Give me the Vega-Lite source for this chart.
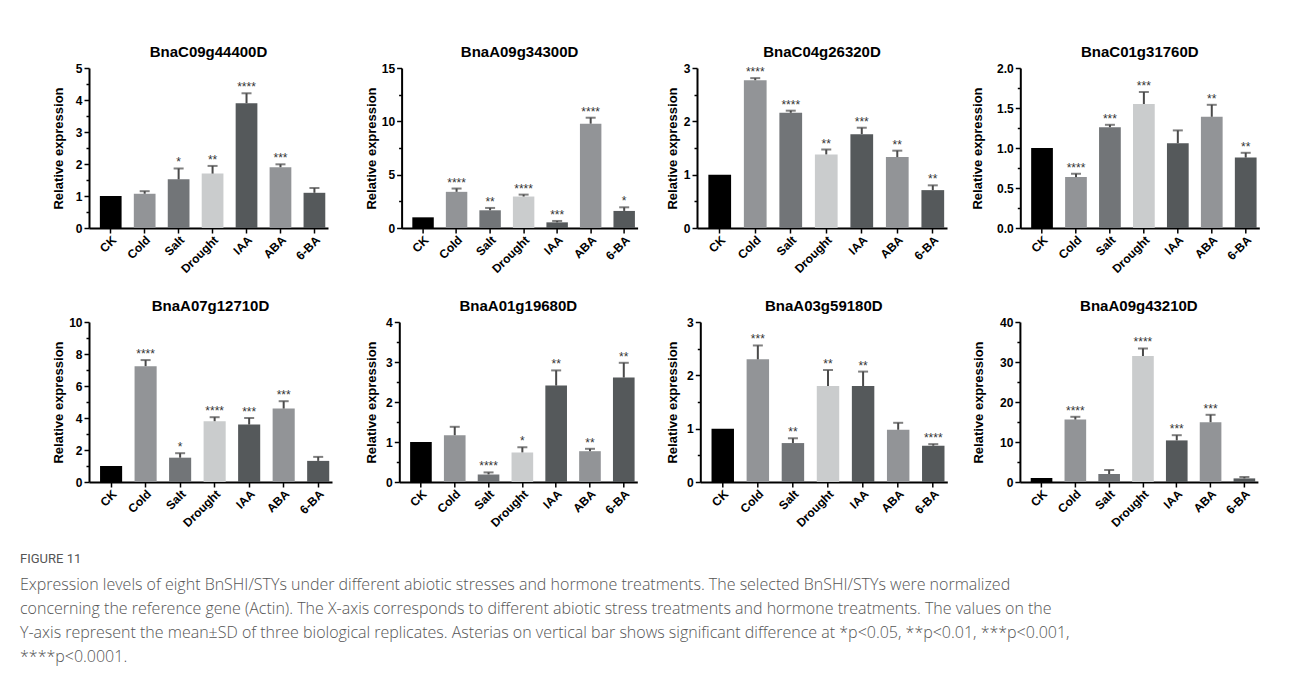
{
"$schema": "https://vega.github.io/schema/vega-lite/v6.json",
"padding": {"left": 20, "top": 45, "right": 5, "bottom": 5},
"background": "white",
"datasets": {
"expr": [
{"gene":"BnaC09g44400D","treatment":"CK","mean":1.0},
{"gene":"BnaC09g44400D","treatment":"Cold","mean":1.07,"upper":1.15},
{"gene":"BnaC09g44400D","treatment":"Salt","mean":1.52,"upper":1.86,"sig":"*"},
{"gene":"BnaC09g44400D","treatment":"Drought","mean":1.70,"upper":1.94,"sig":"**"},
{"gene":"BnaC09g44400D","treatment":"IAA","mean":3.90,"upper":4.21,"sig":"****"},
{"gene":"BnaC09g44400D","treatment":"ABA","mean":1.90,"upper":1.99,"sig":"***"},
{"gene":"BnaC09g44400D","treatment":"6-BA","mean":1.10,"upper":1.25},
{"gene":"BnaA09g34300D","treatment":"CK","mean":1.0},
{"gene":"BnaA09g34300D","treatment":"Cold","mean":3.39,"upper":3.70,"sig":"****"},
{"gene":"BnaA09g34300D","treatment":"Salt","mean":1.66,"upper":1.88,"sig":"**"},
{"gene":"BnaA09g34300D","treatment":"Drought","mean":2.95,"upper":3.13,"sig":"****"},
{"gene":"BnaA09g34300D","treatment":"IAA","mean":0.53,"upper":0.66,"sig":"***"},
{"gene":"BnaA09g34300D","treatment":"ABA","mean":9.78,"upper":10.34,"sig":"****"},
{"gene":"BnaA09g34300D","treatment":"6-BA","mean":1.60,"upper":1.94,"sig":"*"},
{"gene":"BnaC04g26320D","treatment":"CK","mean":1.0},
{"gene":"BnaC04g26320D","treatment":"Cold","mean":2.77,"upper":2.81,"sig":"****"},
{"gene":"BnaC04g26320D","treatment":"Salt","mean":2.16,"upper":2.20,"sig":"****"},
{"gene":"BnaC04g26320D","treatment":"Drought","mean":1.38,"upper":1.47,"sig":"**"},
{"gene":"BnaC04g26320D","treatment":"IAA","mean":1.76,"upper":1.88,"sig":"***"},
{"gene":"BnaC04g26320D","treatment":"ABA","mean":1.33,"upper":1.45,"sig":"**"},
{"gene":"BnaC04g26320D","treatment":"6-BA","mean":0.71,"upper":0.80,"sig":"**"},
{"gene":"BnaC01g31760D","treatment":"CK","mean":1.0},
{"gene":"BnaC01g31760D","treatment":"Cold","mean":0.636,"upper":0.678,"sig":"****"},
{"gene":"BnaC01g31760D","treatment":"Salt","mean":1.26,"upper":1.29,"sig":"***"},
{"gene":"BnaC01g31760D","treatment":"Drought","mean":1.55,"upper":1.70,"sig":"***"},
{"gene":"BnaC01g31760D","treatment":"IAA","mean":1.06,"upper":1.22},
{"gene":"BnaC01g31760D","treatment":"ABA","mean":1.39,"upper":1.54,"sig":"**"},
{"gene":"BnaC01g31760D","treatment":"6-BA","mean":0.88,"upper":0.94,"sig":"**"},
{"gene":"BnaA07g12710D","treatment":"CK","mean":1.0},
{"gene":"BnaA07g12710D","treatment":"Cold","mean":7.24,"upper":7.62,"sig":"****"},
{"gene":"BnaA07g12710D","treatment":"Salt","mean":1.52,"upper":1.80,"sig":"*"},
{"gene":"BnaA07g12710D","treatment":"Drought","mean":3.80,"upper":4.05,"sig":"****"},
{"gene":"BnaA07g12710D","treatment":"IAA","mean":3.59,"upper":4.00,"sig":"***"},
{"gene":"BnaA07g12710D","treatment":"ABA","mean":4.59,"upper":5.05,"sig":"***"},
{"gene":"BnaA07g12710D","treatment":"6-BA","mean":1.32,"upper":1.57},
{"gene":"BnaA01g19680D","treatment":"CK","mean":1.0},
{"gene":"BnaA01g19680D","treatment":"Cold","mean":1.17,"upper":1.38},
{"gene":"BnaA01g19680D","treatment":"Salt","mean":0.19,"upper":0.24,"sig":"****"},
{"gene":"BnaA01g19680D","treatment":"Drought","mean":0.74,"upper":0.87,"sig":"*"},
{"gene":"BnaA01g19680D","treatment":"IAA","mean":2.41,"upper":2.79,"sig":"**"},
{"gene":"BnaA01g19680D","treatment":"ABA","mean":0.77,"upper":0.83,"sig":"**"},
{"gene":"BnaA01g19680D","treatment":"6-BA","mean":2.61,"upper":2.98,"sig":"**"},
{"gene":"BnaA03g59180D","treatment":"CK","mean":1.0},
{"gene":"BnaA03g59180D","treatment":"Cold","mean":2.30,"upper":2.56,"sig":"***"},
{"gene":"BnaA03g59180D","treatment":"Salt","mean":0.73,"upper":0.82,"sig":"**"},
{"gene":"BnaA03g59180D","treatment":"Drought","mean":1.80,"upper":2.10,"sig":"**"},
{"gene":"BnaA03g59180D","treatment":"IAA","mean":1.80,"upper":2.07,"sig":"**"},
{"gene":"BnaA03g59180D","treatment":"ABA","mean":0.98,"upper":1.11},
{"gene":"BnaA03g59180D","treatment":"6-BA","mean":0.68,"upper":0.71,"sig":"****"},
{"gene":"BnaA09g43210D","treatment":"CK","mean":1.0},
{"gene":"BnaA09g43210D","treatment":"Cold","mean":15.6,"upper":16.3,"sig":"****"},
{"gene":"BnaA09g43210D","treatment":"Salt","mean":2.0,"upper":3.0},
{"gene":"BnaA09g43210D","treatment":"Drought","mean":31.5,"upper":33.4,"sig":"****"},
{"gene":"BnaA09g43210D","treatment":"IAA","mean":10.4,"upper":11.7,"sig":"***"},
{"gene":"BnaA09g43210D","treatment":"ABA","mean":14.95,"upper":16.8,"sig":"***"},
{"gene":"BnaA09g43210D","treatment":"6-BA","mean":0.9,"upper":1.25}
]
},
"title": {
"text": "FIGURE 11",
"subtitle": [
"Expression levels of eight BnSHI/STYs under different abiotic stresses and hormone treatments. The selected BnSHI/STYs were normalized",
"concerning the reference gene (Actin). The X-axis corresponds to different abiotic stress treatments and hormone treatments. The values on the",
"Y-axis represent the mean±SD of three biological replicates. Asterias on vertical bar shows significant difference at *p<0.05, **p<0.01, ***p<0.001,",
"****p<0.0001."
],
"orient": "bottom",
"anchor": "start",
"dx": -32,
"offset": 24,
"font": "Roboto",
"fontSize": 13,
"fontWeight": "normal",
"color": "#555555",
"subtitleFont": "Open Sans",
"subtitleFontSize": 16,
"subtitleFontWeight": 300,
"subtitleColor": "#555555",
"subtitleLineHeight": 24,
"subtitlePadding": 11
},
"vconcat": [
{"hconcat": [
 {"hconcat": [
  {"width": 239, "height": 160, "title": "BnaC09g44400D", "data": {"name": "expr"},
   "transform": [{"filter": "datum.gene === 'BnaC09g44400D'"}],
   "encoding": {"x": {"field": "treatment", "type": "nominal", "sort": ["CK","Cold","Salt","Drought","IAA","ABA","6-BA"], "scale": {"paddingInner": 0.36, "paddingOuter": 0.2, "align": 0.8}, "title": null}},
   "layer": [
    {"mark": "bar", "encoding": {"y": {"field": "mean", "type": "quantitative", "title": "Relative expression", "scale": {"domain": [0, 5], "nice": false},
      "axis": {"values": [0,0.5,1,1.5,2,2.5,3,3.5,4,4.5,5], "format": ".0f", "tickCount": 50, "labelOverlap": false, "labelExpr": "datum.value % 1 === 0 ? datum.label : ''", "tickSize": {"condition": {"test": "datum.value % 1 !== 0", "value": 3}, "value": 5}, "minExtent": 21, "titlePadding": 3}},
      "color": {"field": "treatment", "type": "nominal", "scale": {"domain": ["CK","Cold","Salt","Drought","IAA","ABA","6-BA"], "range": ["#000000","#929497","#727578","#cacccd","#55595b","#929497","#55595b"]}, "legend": null}}},
    {"transform": [{"filter": "datum.upper != null"}], "mark": {"type": "rule", "color": "#4a4a4a", "strokeWidth": 2}, "encoding": {"y": {"field": "mean", "type": "quantitative", "title": "Relative expression"}, "y2": {"field": "upper"}}},
    {"transform": [{"filter": "datum.upper != null"}], "mark": {"type": "tick", "color": "#4a4a4a", "thickness": 2, "size": 10}, "encoding": {"y": {"field": "upper", "type": "quantitative", "title": "Relative expression"}}},
    {"transform": [{"filter": "datum.sig != null"}], "mark": {"type": "text", "baseline": "alphabetic", "dy": -2, "fontSize": 12, "color": "#333333"}, "encoding": {"y": {"field": "upper", "type": "quantitative", "title": "Relative expression"}, "text": {"field": "sig"}}}
   ]},
  {"width": 236, "height": 160, "title": "BnaA09g34300D", "data": {"name": "expr"},
   "transform": [{"filter": "datum.gene === 'BnaA09g34300D'"}],
   "encoding": {"x": {"field": "treatment", "type": "nominal", "sort": ["CK","Cold","Salt","Drought","IAA","ABA","6-BA"], "scale": {"paddingInner": 0.36, "paddingOuter": 0.2, "align": 0.8}, "title": null}},
   "layer": [
    {"mark": "bar", "encoding": {"y": {"field": "mean", "type": "quantitative", "title": "Relative expression", "scale": {"domain": [0, 15], "nice": false},
      "axis": {"values": [0,2.5,5,7.5,10,12.5,15], "format": ".0f", "tickCount": 50, "labelOverlap": false, "labelExpr": "datum.value % 5 === 0 ? datum.label : ''", "tickSize": {"condition": {"test": "datum.value % 5 !== 0", "value": 3}, "value": 5}, "titlePadding": 3}},
      "color": {"field": "treatment", "type": "nominal", "scale": {"domain": ["CK","Cold","Salt","Drought","IAA","ABA","6-BA"], "range": ["#000000","#929497","#727578","#cacccd","#55595b","#929497","#55595b"]}, "legend": null}}},
    {"transform": [{"filter": "datum.upper != null"}], "mark": {"type": "rule", "color": "#4a4a4a", "strokeWidth": 2}, "encoding": {"y": {"field": "mean", "type": "quantitative", "title": "Relative expression"}, "y2": {"field": "upper"}}},
    {"transform": [{"filter": "datum.upper != null"}], "mark": {"type": "tick", "color": "#4a4a4a", "thickness": 2, "size": 10}, "encoding": {"y": {"field": "upper", "type": "quantitative", "title": "Relative expression"}}},
    {"transform": [{"filter": "datum.sig != null"}], "mark": {"type": "text", "baseline": "alphabetic", "dy": -2, "fontSize": 12, "color": "#333333"}, "encoding": {"y": {"field": "upper", "type": "quantitative", "title": "Relative expression"}, "text": {"field": "sig"}}}
   ]}
 ], "spacing": 36.6},
 {"hconcat": [
  {"width": 250, "height": 160, "title": "BnaC04g26320D", "data": {"name": "expr"},
   "transform": [{"filter": "datum.gene === 'BnaC04g26320D'"}],
   "encoding": {"x": {"field": "treatment", "type": "nominal", "sort": ["CK","Cold","Salt","Drought","IAA","ABA","6-BA"], "scale": {"paddingInner": 0.36, "paddingOuter": 0.2, "align": 0.8}, "title": null}},
   "layer": [
    {"mark": "bar", "encoding": {"y": {"field": "mean", "type": "quantitative", "title": "Relative expression", "scale": {"domain": [0, 3], "nice": false},
      "axis": {"values": [0,0.5,1,1.5,2,2.5,3], "format": ".0f", "tickCount": 50, "labelOverlap": false, "labelExpr": "datum.value % 1 === 0 ? datum.label : ''", "tickSize": {"condition": {"test": "datum.value % 1 !== 0", "value": 3}, "value": 5}, "minExtent": 14, "titlePadding": 4}},
      "color": {"field": "treatment", "type": "nominal", "scale": {"domain": ["CK","Cold","Salt","Drought","IAA","ABA","6-BA"], "range": ["#000000","#929497","#727578","#cacccd","#55595b","#929497","#55595b"]}, "legend": null}}},
    {"transform": [{"filter": "datum.upper != null"}], "mark": {"type": "rule", "color": "#4a4a4a", "strokeWidth": 2}, "encoding": {"y": {"field": "mean", "type": "quantitative", "title": "Relative expression"}, "y2": {"field": "upper"}}},
    {"transform": [{"filter": "datum.upper != null"}], "mark": {"type": "tick", "color": "#4a4a4a", "thickness": 2, "size": 10}, "encoding": {"y": {"field": "upper", "type": "quantitative", "title": "Relative expression"}}},
    {"transform": [{"filter": "datum.sig != null"}], "mark": {"type": "text", "baseline": "alphabetic", "dy": -2, "fontSize": 12, "color": "#333333"}, "encoding": {"y": {"field": "upper", "type": "quantitative", "title": "Relative expression"}, "text": {"field": "sig"}}}
   ]},
  {"width": 239, "height": 160, "title": "BnaC01g31760D", "data": {"name": "expr"},
   "transform": [{"filter": "datum.gene === 'BnaC01g31760D'"}],
   "encoding": {"x": {"field": "treatment", "type": "nominal", "sort": ["CK","Cold","Salt","Drought","IAA","ABA","6-BA"], "scale": {"paddingInner": 0.36, "paddingOuter": 0.2, "align": 0.8}, "title": null}},
   "layer": [
    {"mark": "bar", "encoding": {"y": {"field": "mean", "type": "quantitative", "title": "Relative expression", "scale": {"domain": [0, 2], "nice": false},
      "axis": {"values": [0,0.25,0.5,0.75,1,1.25,1.5,1.75,2], "tickCount": 50, "labelOverlap": false, "format": ".1f", "labelExpr": "datum.value % 0.5 === 0 ? datum.label : ''", "tickSize": {"condition": {"test": "datum.value % 0.5 !== 0", "value": 3}, "value": 5}, "titlePadding": 12}},
      "color": {"field": "treatment", "type": "nominal", "scale": {"domain": ["CK","Cold","Salt","Drought","IAA","ABA","6-BA"], "range": ["#000000","#929497","#727578","#cacccd","#55595b","#929497","#55595b"]}, "legend": null}}},
    {"transform": [{"filter": "datum.upper != null"}], "mark": {"type": "rule", "color": "#4a4a4a", "strokeWidth": 2}, "encoding": {"y": {"field": "mean", "type": "quantitative", "title": "Relative expression"}, "y2": {"field": "upper"}}},
    {"transform": [{"filter": "datum.upper != null"}], "mark": {"type": "tick", "color": "#4a4a4a", "thickness": 2, "size": 10}, "encoding": {"y": {"field": "upper", "type": "quantitative", "title": "Relative expression"}}},
    {"transform": [{"filter": "datum.sig != null"}], "mark": {"type": "text", "baseline": "alphabetic", "dy": -2, "fontSize": 12, "color": "#333333"}, "encoding": {"y": {"field": "upper", "type": "quantitative", "title": "Relative expression"}, "text": {"field": "sig"}}}
   ]}
 ], "spacing": 24.3}
], "spacing": 28},
{"hconcat": [
 {"hconcat": [
  {"width": 243, "height": 160, "title": "BnaA07g12710D", "data": {"name": "expr"},
   "transform": [{"filter": "datum.gene === 'BnaA07g12710D'"}],
   "encoding": {"x": {"field": "treatment", "type": "nominal", "sort": ["CK","Cold","Salt","Drought","IAA","ABA","6-BA"], "scale": {"paddingInner": 0.36, "paddingOuter": 0.2, "align": 0.8}, "title": null}},
   "layer": [
    {"mark": "bar", "encoding": {"y": {"field": "mean", "type": "quantitative", "title": "Relative expression", "scale": {"domain": [0, 10], "nice": false},
      "axis": {"values": [0,1,2,3,4,5,6,7,8,9,10], "format": ".0f", "tickCount": 50, "labelOverlap": false, "labelExpr": "datum.value % 2 === 0 ? datum.label : ''", "tickSize": {"condition": {"test": "datum.value % 2 !== 0", "value": 3}, "value": 5}, "minExtent": 21, "titlePadding": 3}},
      "color": {"field": "treatment", "type": "nominal", "scale": {"domain": ["CK","Cold","Salt","Drought","IAA","ABA","6-BA"], "range": ["#000000","#929497","#727578","#cacccd","#55595b","#929497","#55595b"]}, "legend": null}}},
    {"transform": [{"filter": "datum.upper != null"}], "mark": {"type": "rule", "color": "#4a4a4a", "strokeWidth": 2}, "encoding": {"y": {"field": "mean", "type": "quantitative", "title": "Relative expression"}, "y2": {"field": "upper"}}},
    {"transform": [{"filter": "datum.upper != null"}], "mark": {"type": "tick", "color": "#4a4a4a", "thickness": 2, "size": 10}, "encoding": {"y": {"field": "upper", "type": "quantitative", "title": "Relative expression"}}},
    {"transform": [{"filter": "datum.sig != null"}], "mark": {"type": "text", "baseline": "alphabetic", "dy": -2, "fontSize": 12, "color": "#333333"}, "encoding": {"y": {"field": "upper", "type": "quantitative", "title": "Relative expression"}, "text": {"field": "sig"}}}
   ]},
  {"width": 238, "height": 160, "title": "BnaA01g19680D", "data": {"name": "expr"},
   "transform": [{"filter": "datum.gene === 'BnaA01g19680D'"}],
   "encoding": {"x": {"field": "treatment", "type": "nominal", "sort": ["CK","Cold","Salt","Drought","IAA","ABA","6-BA"], "scale": {"paddingInner": 0.36, "paddingOuter": 0.2, "align": 0.8}, "title": null}},
   "layer": [
    {"mark": "bar", "encoding": {"y": {"field": "mean", "type": "quantitative", "title": "Relative expression", "scale": {"domain": [0, 4], "nice": false},
      "axis": {"values": [0,0.5,1,1.5,2,2.5,3,3.5,4], "format": ".0f", "tickCount": 50, "labelOverlap": false, "labelExpr": "datum.value % 1 === 0 ? datum.label : ''", "tickSize": {"condition": {"test": "datum.value % 1 !== 0", "value": 3}, "value": 5}, "titlePadding": 7}},
      "color": {"field": "treatment", "type": "nominal", "scale": {"domain": ["CK","Cold","Salt","Drought","IAA","ABA","6-BA"], "range": ["#000000","#929497","#727578","#cacccd","#55595b","#929497","#55595b"]}, "legend": null}}},
    {"transform": [{"filter": "datum.upper != null"}], "mark": {"type": "rule", "color": "#4a4a4a", "strokeWidth": 2}, "encoding": {"y": {"field": "mean", "type": "quantitative", "title": "Relative expression"}, "y2": {"field": "upper"}}},
    {"transform": [{"filter": "datum.upper != null"}], "mark": {"type": "tick", "color": "#4a4a4a", "thickness": 2, "size": 10}, "encoding": {"y": {"field": "upper", "type": "quantitative", "title": "Relative expression"}}},
    {"transform": [{"filter": "datum.sig != null"}], "mark": {"type": "text", "baseline": "alphabetic", "dy": -2, "fontSize": 12, "color": "#333333"}, "encoding": {"y": {"field": "upper", "type": "quantitative", "title": "Relative expression"}, "text": {"field": "sig"}}}
   ]}
 ], "spacing": 33.3},
 {"hconcat": [
  {"width": 247, "height": 160, "title": "BnaA03g59180D", "data": {"name": "expr"},
   "transform": [{"filter": "datum.gene === 'BnaA03g59180D'"}],
   "encoding": {"x": {"field": "treatment", "type": "nominal", "sort": ["CK","Cold","Salt","Drought","IAA","ABA","6-BA"], "scale": {"paddingInner": 0.36, "paddingOuter": 0.2, "align": 0.8}, "title": null}},
   "layer": [
    {"mark": "bar", "encoding": {"y": {"field": "mean", "type": "quantitative", "title": "Relative expression", "scale": {"domain": [0, 3], "nice": false},
      "axis": {"values": [0,0.5,1,1.5,2,2.5,3], "format": ".0f", "tickCount": 50, "labelOverlap": false, "labelExpr": "datum.value % 1 === 0 ? datum.label : ''", "tickSize": {"condition": {"test": "datum.value % 1 !== 0", "value": 3}, "value": 5}, "titlePadding": 7}},
      "color": {"field": "treatment", "type": "nominal", "scale": {"domain": ["CK","Cold","Salt","Drought","IAA","ABA","6-BA"], "range": ["#000000","#929497","#727578","#cacccd","#55595b","#929497","#55595b"]}, "legend": null}}},
    {"transform": [{"filter": "datum.upper != null"}], "mark": {"type": "rule", "color": "#4a4a4a", "strokeWidth": 2}, "encoding": {"y": {"field": "mean", "type": "quantitative", "title": "Relative expression"}, "y2": {"field": "upper"}}},
    {"transform": [{"filter": "datum.upper != null"}], "mark": {"type": "tick", "color": "#4a4a4a", "thickness": 2, "size": 10}, "encoding": {"y": {"field": "upper", "type": "quantitative", "title": "Relative expression"}}},
    {"transform": [{"filter": "datum.sig != null"}], "mark": {"type": "text", "baseline": "alphabetic", "dy": -2, "fontSize": 12, "color": "#333333"}, "encoding": {"y": {"field": "upper", "type": "quantitative", "title": "Relative expression"}, "text": {"field": "sig"}}}
   ]},
  {"width": 238, "height": 160, "title": "BnaA09g43210D", "data": {"name": "expr"},
   "transform": [{"filter": "datum.gene === 'BnaA09g43210D'"}],
   "encoding": {"x": {"field": "treatment", "type": "nominal", "sort": ["CK","Cold","Salt","Drought","IAA","ABA","6-BA"], "scale": {"paddingInner": 0.36, "paddingOuter": 0.2, "align": 0.8}, "title": null}},
   "layer": [
    {"mark": "bar", "encoding": {"y": {"field": "mean", "type": "quantitative", "title": "Relative expression", "scale": {"domain": [0, 40], "nice": false},
      "axis": {"values": [0,5,10,15,20,25,30,35,40], "format": ".0f", "tickCount": 50, "labelOverlap": false, "labelExpr": "datum.value % 10 === 0 ? datum.label : ''", "tickSize": {"condition": {"test": "datum.value % 10 !== 0", "value": 3}, "value": 5}, "titlePadding": 14}},
      "color": {"field": "treatment", "type": "nominal", "scale": {"domain": ["CK","Cold","Salt","Drought","IAA","ABA","6-BA"], "range": ["#000000","#929497","#727578","#cacccd","#55595b","#929497","#55595b"]}, "legend": null}}},
    {"transform": [{"filter": "datum.upper != null"}], "mark": {"type": "rule", "color": "#4a4a4a", "strokeWidth": 2}, "encoding": {"y": {"field": "mean", "type": "quantitative", "title": "Relative expression"}, "y2": {"field": "upper"}}},
    {"transform": [{"filter": "datum.upper != null"}], "mark": {"type": "tick", "color": "#4a4a4a", "thickness": 2, "size": 10}, "encoding": {"y": {"field": "upper", "type": "quantitative", "title": "Relative expression"}}},
    {"transform": [{"filter": "datum.sig != null"}], "mark": {"type": "text", "baseline": "alphabetic", "dy": -2, "fontSize": 12, "color": "#333333"}, "encoding": {"y": {"field": "upper", "type": "quantitative", "title": "Relative expression"}, "text": {"field": "sig"}}}
   ]}
 ], "spacing": 24.6}
], "spacing": 28.3}
],
"spacing": 24,
"config": {
 "view": {"stroke": null},
 "font": "Liberation Sans",
 "axis": {"domainColor": "#000000", "domainWidth": 2, "tickColor": "#000000", "tickWidth": 1.5, "labelColor": "#000000", "labelFont": "Liberation Sans", "labelFontWeight": "bold", "labelFontSize": 12, "titleFont": "Liberation Sans", "titleFontWeight": "bold", "titleFontSize": 13, "titleColor": "#000000", "grid": false, "labelOverlap": false},
 "axisX": {"labelAngle": -45, "tickSize": 5, "labelPadding": 1},
 "axisY": {"labelPadding": 2},
 "title": {"font": "Liberation Sans", "fontSize": 15, "fontWeight": "bold", "color": "#000000", "offset": 2}
}
}
